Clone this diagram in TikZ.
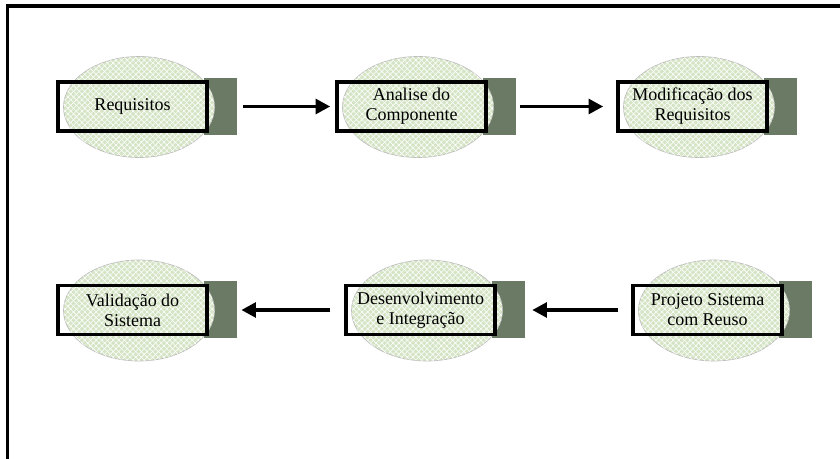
\documentclass[tikz,border=0pt]{standalone}
\usepackage{fontspec}
\setmainfont{Liberation Serif}
\usetikzlibrary{arrows.meta,patterns.meta,shapes.geometric}
\definecolor{ellfill}{RGB}{212,228,196}
\definecolor{ellline}{RGB}{190,190,190}
\definecolor{darkgreen}{RGB}{107,122,101}
\tikzset{
  ellbg/.style={ellipse, draw=ellline, line width=0.5pt, minimum width=113.25pt, minimum height=75.75pt, inner sep=0pt,
    preaction={fill=ellfill},
    pattern={Lines[angle=45,distance=3pt,line width=0.45pt]}, pattern color=white,
    postaction={pattern={Lines[angle=-45,distance=3pt,line width=0.45pt]}, pattern color=white}},
  darkbox/.style={rectangle, fill=darkgreen, minimum width=24.75pt, minimum height=42.75pt, inner sep=0pt},
  stagebox/.style={rectangle, draw=black, line width=2.6pt, minimum width=111.75pt, minimum height=36.75pt,
    inner sep=0pt, align=center, font=\fontsize{13.5}{15}\selectfont},
  flow/.style={line width=2.8pt, -{Triangle[length=11pt,width=11pt]}},
}
\newcommand\mystage[4]{%
  \node[darkbox] (#1d) at (#2+162,#3) {};
  \node[ellbg] (#1e) at (#2+81,#3+0.5) {};
  \node[stagebox] (#1) at (#2+74.5,#3) {#4};
}
\begin{document}
\begin{tikzpicture}[x=0.75pt,y=-0.75pt]
\useasboundingbox (0,0) rectangle (840,459);
\clip (0,0) rectangle (840,459);
\fill[white] (0,0) rectangle (840,459);
\draw[line width=2.4pt] (7.5,470) -- (7.5,6) -- (850,6);
\mystage{req}{58}{106.5}{Requisitos}
\mystage{ana}{337}{106.5}{Analise do\\Componente}
\mystage{mod}{618}{106.5}{Modificação dos\\Requisitos}
\mystage{val}{58}{310}{Validação do\\Sistema}
\mystage{des}{346}{310}{Desenvolvimento\\e Integração}
\mystage{pro}{633}{310}{Projeto Sistema\\com Reuso}
\draw[flow, shorten <=4.9pt, shorten >=3.75pt] (reqd.east) -- (ana.west);
\draw[flow, shorten <=3.4pt, shorten >=9.75pt] (anad.east) -- (mod.west);
\draw[flow, shorten <=9.75pt, shorten >=5.6pt] (pro.west) -- (desd.east);
\draw[flow, shorten <=10.5pt, shorten >=3.4pt] (des.west) -- (vald.east);
\end{tikzpicture}
\end{document}
